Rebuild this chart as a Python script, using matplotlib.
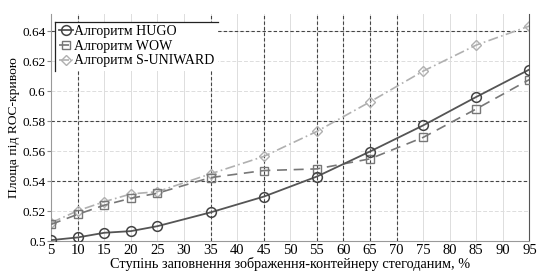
import matplotlib
matplotlib.use("Agg")
import matplotlib.pyplot as plt
from matplotlib.lines import Line2D

plt.rcParams['font.family'] = ['Liberation Serif', 'DejaVu Serif']

x = [5, 10, 15, 20, 25, 35, 45, 55, 65, 75, 85, 95]
hugo = [0.5007, 0.5025, 0.5056, 0.5067, 0.5100, 0.5192, 0.5297, 0.5431, 0.5598, 0.5772, 0.5962, 0.6145]
wow = [0.5112, 0.5179, 0.5240, 0.5286, 0.5320, 0.5424, 0.5471, 0.5482, 0.5549, 0.5692, 0.5882, 0.6078]
suni = [0.5123, 0.5203, 0.5263, 0.5315, 0.5330, 0.5449, 0.5565, 0.5732, 0.5929, 0.6134, 0.6308, 0.6435]
labels = ["Алгоритм HUGO", "Алгоритм WOW", "Алгоритм S-UNIWARD"]
xticks = list(range(5, 100, 5))
yticks = [0.5, 0.52, 0.54, 0.56, 0.58, 0.6, 0.62, 0.64]
ytick_labels = ["0.5", "0.52", "0.54", "0.56", "0.58", "0.6", "0.62", "0.64"]
dark_vx = [10, 35, 45, 55, 60, 65, 70]
dark_hy = [0.54, 0.58, 0.64]
xlabel = "Ступінь заповнення зображення-контейнеру стегоданим, %"
ylabel = "Площа під ROC-кривою"

fig = plt.figure(figsize=(5.38, 2.75), dpi=100)
ax = fig.add_axes([0.095, 0.123, 0.889, 0.826])
ax.set_xlim(5, 95)
ax.set_ylim(0.5, 0.6515)

# light grid
for xv in xticks:
    ax.axvline(xv, color='#dddddd', lw=0.7, zorder=0)
for yv in yticks:
    ax.axhline(yv, color='#dddddd', lw=0.7, ls=(0, (4, 2)), zorder=0)
# darker dashed grid
for xv in dark_vx:
    ax.axvline(xv, color='#444444', lw=0.8, ls=(0, (3, 2)), zorder=1)
for yv in dark_hy:
    ax.axhline(yv, color='#444444', lw=0.8, ls=(0, (3, 2)), zorder=1)

ax.plot(x, hugo, color='#555555', lw=1.3, ls='-', marker='o', ms=7,
        mfc='none', mec='#444444', mew=1.1, label=labels[0], zorder=4)
ax.plot(x, wow, color='#777777', lw=1.2, ls=(0, (6, 4)), marker='s', ms=6,
        mfc='none', mec='#777777', mew=1.0, label=labels[1], zorder=3)
ax.plot(x, suni, color='#b0b0b0', lw=1.2, ls=(0, (6, 2, 1, 2)), marker='D', ms=5.5,
        mfc='none', mec='#b0b0b0', mew=1.0, label=labels[2], zorder=2)

ax.set_xticks(xticks)
ax.set_xticklabels([str(v) for v in xticks], fontsize=10.5)
ax.set_yticks(yticks)
ax.set_yticklabels(ytick_labels, fontsize=9.5)
ax.tick_params(axis='both', direction='out', length=3, color='#888888', pad=1)
ax.tick_params(axis='x', length=0, pad=2)
for s in ax.spines.values():
    s.set_color('#999999')
    s.set_linewidth(0.8)
ax.spines['top'].set_visible(False)
ax.spines['right'].set_color('#555555')

ax.set_xlabel(xlabel, fontsize=10.3, labelpad=0)
ax.set_ylabel(ylabel, fontsize=9.7, labelpad=2)

leg = ax.legend(loc='upper left', bbox_to_anchor=(0.0, 0.985), fontsize=10,
                frameon=True, fancybox=False, handlelength=1.0, handletextpad=0.1,
                borderpad=0.25, labelspacing=0.12, borderaxespad=0.3)
leg.get_frame().set_edgecolor('none')
leg.get_frame().set_facecolor('white')
leg.get_frame().set_alpha(1.0)
leg.set_zorder(10)

fig.canvas.draw()
bb = leg.get_window_extent().transformed(fig.transFigure.inverted())
fig.add_artist(Line2D([bb.x0, bb.x1], [bb.y1, bb.y1], color='#222222', lw=0.9, zorder=11))
fig.add_artist(Line2D([bb.x0, bb.x0], [bb.y0, bb.y1], color='#222222', lw=0.9, zorder=11))

fig.savefig("out.png", dpi=100)
